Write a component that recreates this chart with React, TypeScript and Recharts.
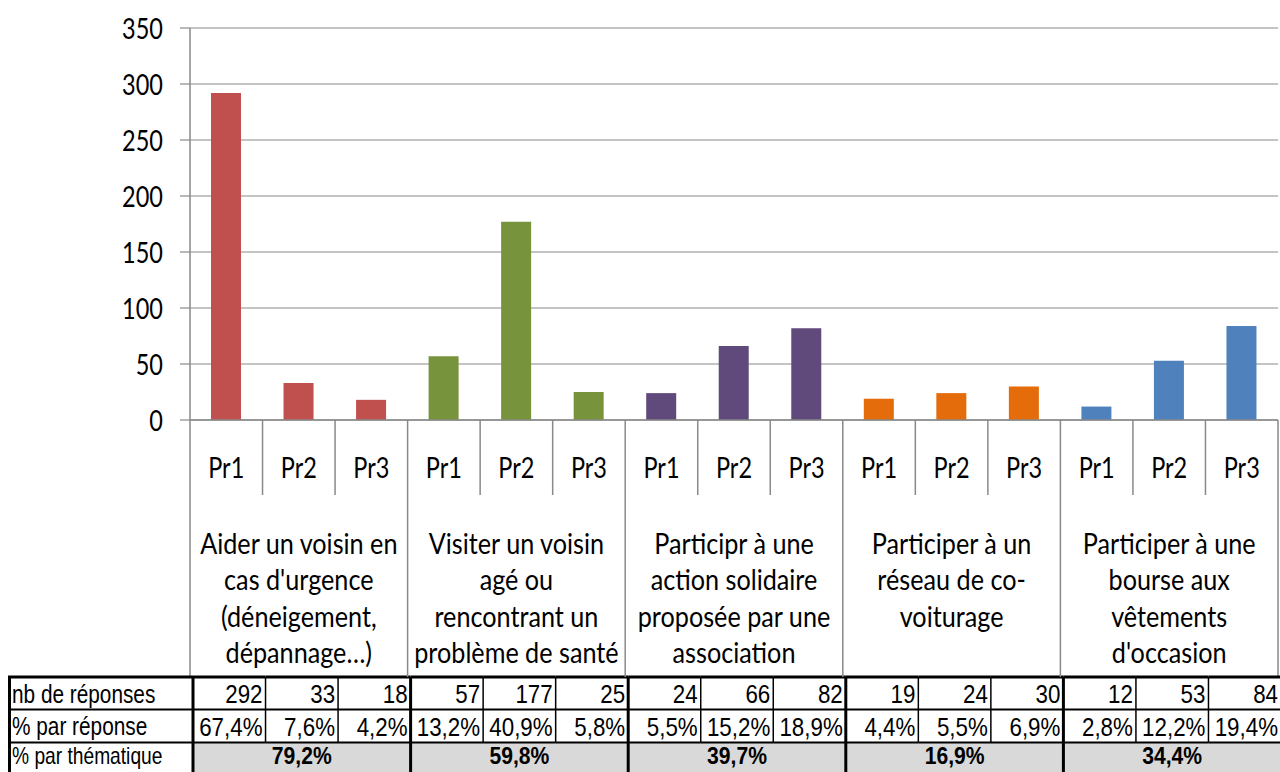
import { Bar, BarChart, CartesianGrid, Cell, XAxis, YAxis } from 'recharts';

// categories
const priorities = ['Pr1', 'Pr2', 'Pr3'];
const groupLines = [
  ['Aider un voisin en', "cas d'urgence", '(déneigement,', 'dépannage…)'],
  ['Visiter un voisin', 'agé ou', 'rencontrant un', 'problème de santé'],
  ['Participr à une', 'action solidaire', 'proposée par une', 'association'],
  ['Participer à un', 'réseau de co-', 'voiturage'],
  ['Participer à une', 'bourse aux', 'vêtements', "d'occasion"],
];
const groupColors = ['#C0504D', '#77933C', '#604A7B', '#E46C0A', '#4F81BD'];

// series values
const responses = [292, 33, 18, 57, 177, 25, 24, 66, 82, 19, 24, 30, 12, 53, 84];
const pctResponse = ['67,4%', '7,6%', '4,2%', '13,2%', '40,9%', '5,8%', '5,5%', '15,2%', '18,9%', '4,4%', '5,5%', '6,9%', '2,8%', '12,2%', '19,4%'];
const pctTheme = ['79,2%', '59,8%', '39,7%', '16,9%', '34,4%'];
const rowLabels = ['nb de réponses', '% par réponse', '% par thématique'];

// tick labels
const yTicks = [0, 50, 100, 150, 200, 250, 300, 350];

const W = 1280;
const H = 772;
const LEFT = 190;
const RIGHT = 2;
const TOP = 28;
const X_AXIS_H = 352;
const BW = (W - LEFT - RIGHT) / responses.length;

const CHART_FONT = 'Lato, "Open Sans", sans-serif';
const TABLE_FONT = '"Liberation Sans Narrow", "Arial Narrow", "Liberation Sans", sans-serif';
const SX = 0.84;
const GRID = '#898989';
const TX = 3; // table is drawn slightly right of the category separators

const data = responses.map((v, i) => ({
  key: `c${i}`,
  pr: priorities[i % 3],
  group: Math.floor(i / 3),
  value: v,
}));

function SText({ x, y, anchor, children, size, font, sx, weight }: any) {
  return (
    <text
      transform={`translate(${x},${y}) scale(${sx},1)`}
      textAnchor={anchor}
      dominantBaseline="central"
      fontSize={size}
      fontFamily={font}
      fontWeight={weight || 'normal'}
      fill="#000"
    >
      {children}
    </text>
  );
}

function YTick(props: any) {
  const { x, y, payload } = props;
  return (
    <SText x={x} y={y} anchor="end" size={28} font={CHART_FONT} sx={SX}>
      {payload.value}
    </SText>
  );
}

function CategoryTick(props: any) {
  const { x, y, payload } = props;
  const i = props.index ?? payload.index;
  const d = data[i];
  const left = x - BW / 2;
  const right = x + BW / 2;
  const base = y;
  const tl = left + TX;
  const tr = right + TX;
  const tc = x + TX;
  const tTop = base + 257;
  const r1 = tTop + 32.5;
  const r2 = r1 + 33;
  const r3 = r2 + 40;
  const first = i % 3 === 0;
  const mid = i % 3 === 1;
  const last = i === data.length - 1;

  return (
    <g>
      {/* category axis separators */}
      {first ? (
        <line x1={left} y1={base} x2={left} y2={tTop} stroke={GRID} strokeWidth={1.5} />
      ) : (
        <line x1={left} y1={base} x2={left} y2={base + 75} stroke={GRID} strokeWidth={1.5} />
      )}
      {last && <line x1={right} y1={base} x2={right} y2={tTop} stroke={GRID} strokeWidth={1.5} />}
      <SText x={x} y={base + 47} anchor="middle" size={28} font={CHART_FONT} sx={SX}>
        {d.pr}
      </SText>
      {mid &&
        groupLines[d.group].map((line, k) => (
          <SText key={k} x={x} y={base + 123 + k * 36.6} anchor="middle" size={28} font={CHART_FONT} sx={0.9}>
            {line}
          </SText>
        ))}

      {/* data table */}
      {i === 0 && (
        <g>
          <rect x={8} y={tTop} width={tl - 8} height={r3 - tTop} fill="#fff" />
          {rowLabels.map((lab, k) => (
            <SText key={k} x={12} y={tTop + 17 + k * 32.5 - (k === 2 ? 3 : 0)} anchor="start" size={k === 2 ? 24 : 26} font={TABLE_FONT} sx={0.8}>
              {lab}
            </SText>
          ))}
          <line x1={8} y1={r1} x2={tl} y2={r1} stroke="#000" strokeWidth={2} />
          <line x1={8} y1={r2} x2={tl} y2={r2} stroke="#000" strokeWidth={2} />
          <line x1={8} y1={tTop} x2={tl} y2={tTop} stroke="#000" strokeWidth={3} />
          <line x1={9.5} y1={tTop} x2={9.5} y2={r3} stroke="#000" strokeWidth={3} />
        </g>
      )}
      {first && <rect x={tl} y={r2} width={BW * 3} height={r3 - r2} fill="#D9D9D9" />}
      <SText x={tr - 3} y={tTop + 17} anchor="end" size={26} font={TABLE_FONT} sx={0.86}>
        {responses[i]}
      </SText>
      <SText x={tr - 3} y={r1 + 17} anchor="end" size={26} font={TABLE_FONT} sx={0.86}>
        {pctResponse[i]}
      </SText>
      {mid && (
        <SText x={tc} y={r2 + 14} anchor="middle" size={24} font={TABLE_FONT} sx={0.88} weight="bold">
          {pctTheme[d.group]}
        </SText>
      )}
      <line x1={tl} y1={tTop} x2={tr} y2={tTop} stroke="#000" strokeWidth={3} />
      <line x1={tl} y1={r1} x2={tr} y2={r1} stroke="#000" strokeWidth={2} />
      <line x1={tl} y1={r2} x2={tr} y2={r2} stroke="#000" strokeWidth={2} />
      {i % 3 !== 2 && <line x1={tr} y1={tTop} x2={tr} y2={r2} stroke="#000" strokeWidth={1.5} />}
      {first && <line x1={tl} y1={tTop} x2={tl} y2={r3} stroke="#000" strokeWidth={3} />}
    </g>
  );
}

export default function App() {
  return (
    <div style={{ position: 'absolute', left: 0, top: 0, width: W, height: H, background: '#fff', overflow: 'hidden' }}>
      <BarChart width={W} height={H} data={data} margin={{ top: TOP, right: RIGHT, left: 0, bottom: 0 }}>
        <CartesianGrid vertical={false} stroke={GRID} strokeWidth={1.2} />
        <YAxis
          width={LEFT}
          domain={[0, 350]}
          ticks={yTicks}
          interval={0}
          tickSize={10}
          tickMargin={17}
          tickLine={{ stroke: GRID, strokeWidth: 1.2 }}
          axisLine={{ stroke: GRID, strokeWidth: 1.5 }}
          tick={<YTick />}
        />
        <XAxis
          dataKey="key"
          height={X_AXIS_H}
          interval={0}
          tickSize={0}
          tickMargin={0}
          tickLine={false}
          axisLine={{ stroke: GRID, strokeWidth: 1.5 }}
          tick={<CategoryTick />}
        />
        <Bar dataKey="value" barSize={30} isAnimationActive={false}>
          {data.map((d, i) => (
            <Cell key={i} fill={groupColors[d.group]} />
          ))}
        </Bar>
      </BarChart>
    </div>
  );
}
